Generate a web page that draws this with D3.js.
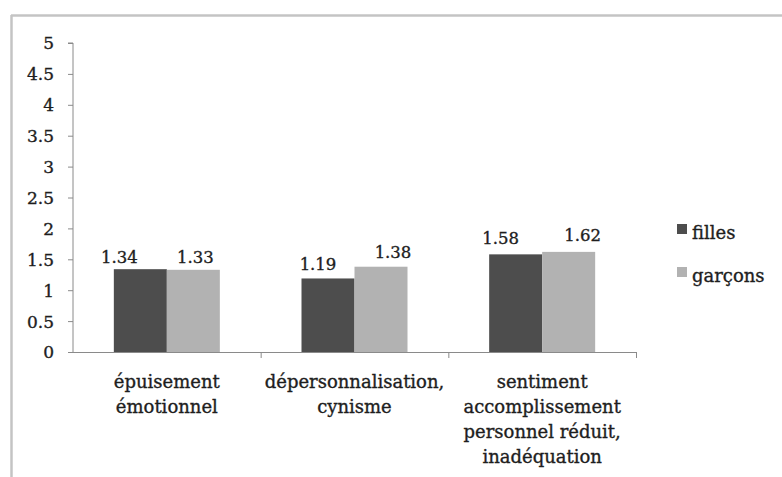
<!DOCTYPE html>
<html><head><meta charset="utf-8">
<script src="https://cdnjs.cloudflare.com/ajax/libs/d3/7.8.5/d3.min.js"></script>
<style>
body{margin:0;background:#fff;}
svg{display:block;}
text{font-family:"DejaVu Serif",serif;fill:#1e1e1e;stroke:#1e1e1e;stroke-width:0.35px;}
</style></head>
<body>
<script>
const categories = [
  ["épuisement","émotionnel"],
  ["dépersonnalisation,","cynisme"],
  ["sentiment","accomplissement","personnel réduit,","inadéquation"]
];
const seriesNames = ["filles","garçons"];
const filles = [1.34, 1.19, 1.58];
const garcons = [1.33, 1.38, 1.62];
const yTicks = [0,0.5,1,1.5,2,2.5,3,3.5,4,4.5,5];
const colors = ["#4d4d4d","#b2b2b2"];

// layout: value-label nudges [dx, dy] per category / series (label placement only)
const labelNudge = [
  [[-21,-6],[2,-7]],
  [[-10,-8],[12,-9]],
  [[-15,-10],[14,-11]]
];

const W = 782, H = 477;
const svg = d3.select("body").append("svg").attr("width",W).attr("height",H);

// frame
svg.append("line").attr("x1",11).attr("x2",W).attr("y1",15.5).attr("y2",15.5)
  .attr("stroke","#c4c4c4").attr("stroke-width",2.5);
svg.append("line").attr("x1",11.5).attr("x2",11.5).attr("y1",15).attr("y2",H)
  .attr("stroke","#c4c4c4").attr("stroke-width",2.5);

const x0 = 73, x1 = 636, yTop = 43, yBot = 352;
const x = d3.scaleBand().domain(d3.range(categories.length)).range([x0,x1]).paddingInner(0).paddingOuter(0);
const y = d3.scaleLinear().domain([0,5]).range([yBot,yTop]);
const bw = 53;

// y axis
const ya = svg.append("g").attr("transform",`translate(${x0},0)`)
  .call(d3.axisLeft(y).tickValues(yTicks).tickSize(5).tickPadding(14).tickFormat(d=>String(d)));
ya.select(".domain").attr("stroke","#8a8a8a").attr("d",`M-5,${yTop}H0V${yBot}`);
ya.selectAll(".tick line").attr("stroke","#8a8a8a");
ya.selectAll(".tick text").attr("font-size",17).attr("font-family","DejaVu Serif").attr("fill","#1e1e1e").attr("dy","0.35em");

// x axis line and ticks
const xa = svg.append("g");
xa.append("line").attr("x1",x0-5).attr("x2",x1).attr("y1",yBot+0.5).attr("y2",yBot+0.5).attr("stroke","#8a8a8a");
const bounds = d3.range(categories.length+1).map(i=> i<categories.length ? x(i) : x1);
xa.selectAll("line.t").data(bounds.slice(1)).enter().append("line")
  .attr("x1",d=>d+0.5).attr("x2",d=>d+0.5).attr("y1",yBot).attr("y2",yBot+6).attr("stroke","#8a8a8a");

// bars
const data = categories.map((c,i)=>[filles[i],garcons[i]]);
const g = svg.append("g");
data.forEach((vals,i)=>{
  const cx = x(i) + x.bandwidth()/2;
  vals.forEach((v,j)=>{
    const bx = cx - bw + j*bw;
    g.append("rect").attr("x",bx).attr("y",y(v)).attr("width",bw).attr("height",yBot-y(v))
      .attr("fill",colors[j]);
    const nd = labelNudge[i][j];
    g.append("text").attr("x",bx+bw/2+nd[0]).attr("y",y(v)+nd[1]).attr("text-anchor","middle")
      .attr("font-size",16.5).text(v.toFixed(2));
  });
  const t = g.append("text").attr("text-anchor","middle").attr("font-size",18);
  categories[i].forEach((line,k)=>{
    t.append("tspan").attr("x",cx).attr("y",388+k*25).text(line);
  });
});

// legend
const lg = svg.append("g");
seriesNames.forEach((n,j)=>{
  lg.append("rect").attr("x",677).attr("y",224+j*43).attr("width",10).attr("height",10).attr("fill",colors[j]);
  lg.append("text").attr("x",692).attr("y",239+j*43).attr("font-size",18).text(n);
});
</script>
</body></html>
